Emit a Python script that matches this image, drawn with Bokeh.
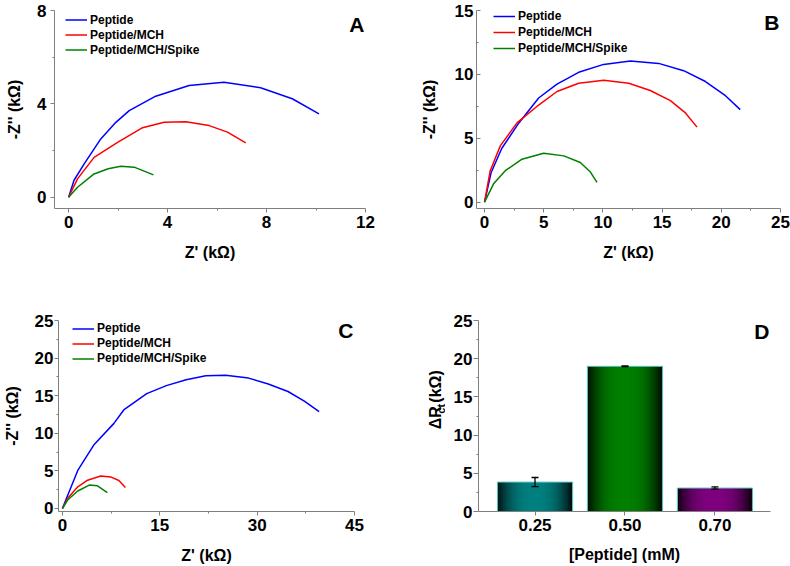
import math
from bokeh.plotting import figure
from bokeh.layouts import column, row
from bokeh.models import (Range1d, FixedTicker, Legend, LegendItem, Label,
                          Whisker, ColumnDataSource, TeeHead)
from bokeh.core.properties import value
from bokeh.embed import file_html
from bokeh.resources import INLINE

FONT = "Liberation Sans"
AX_COL = "#7f7f7f"
SERIES = ["Peptide", "Peptide/MCH", "Peptide/MCH/Spike"]
SERIES_COLORS = ["#0000ff", "#ff0000", "#008000"]

# ---------------- Panel A (kOhm) ----------------
a_pep_x = [0.0, 0.22, 0.63, 1.30, 1.91, 2.45, 3.52, 4.87, 6.28, 7.76, 9.04, 10.12]
a_pep_y = [0.0, 0.73, 1.43, 2.50, 3.21, 3.71, 4.33, 4.79, 4.93, 4.69, 4.22, 3.57]
a_mch_x = [0.0, 0.36, 1.03, 1.98, 2.99, 3.86, 4.74, 5.68, 6.42, 7.16]
a_mch_y = [0.0, 0.79, 1.71, 2.35, 2.98, 3.21, 3.24, 3.07, 2.79, 2.33]
a_spk_x = [0.0, 0.36, 1.03, 1.60, 2.11, 2.65, 3.43]
a_spk_y = [0.0, 0.43, 1.00, 1.22, 1.33, 1.29, 0.96]
a_xticks, a_xminor = [0, 4, 8, 12], [2, 6, 10]
a_yticks, a_yminor = [0, 4, 8], [2, 6]

# ---------------- Panel B ----------------
b_pep_x = [0.0, 0.55, 1.45, 2.90, 4.57, 6.12, 7.95, 10.06, 12.32, 14.71, 16.82, 18.66, 20.35, 21.60]
b_pep_y = [0.0, 2.30, 4.20, 6.20, 8.15, 9.23, 10.16, 10.78, 11.05, 10.86, 10.29, 9.44, 8.33, 7.24]
b_mch_x = [0.0, 0.48, 1.33, 2.74, 4.57, 6.12, 7.95, 10.06, 12.18, 14.00, 15.70, 16.97, 17.95]
b_mch_y = [0.0, 2.46, 4.40, 6.20, 7.60, 8.66, 9.31, 9.54, 9.31, 8.74, 7.94, 6.98, 5.87]
b_spk_x = [0.0, 0.76, 1.75, 3.16, 4.99, 6.70, 8.09, 8.90, 9.50]
b_spk_y = [0.0, 1.43, 2.46, 3.36, 3.83, 3.62, 3.10, 2.40, 1.55]
b_xticks, b_xminor = [0, 5, 10, 15, 20, 25], [2.5, 7.5, 12.5, 17.5, 22.5]
b_yticks, b_yminor = [0, 5, 10, 15], [2.5, 7.5, 12.5]

# ---------------- Panel C ----------------
c_pep_x = [0.0, 0.85, 2.37, 4.90, 7.94, 9.45, 12.99, 16.02, 19.06, 22.09, 25.13, 28.68, 31.71, 34.75, 37.27, 39.55]
c_pep_y = [0.0, 1.82, 5.06, 8.52, 11.32, 13.10, 15.27, 16.34, 17.12, 17.64, 17.73, 17.34, 16.56, 15.56, 14.27, 12.88]
c_mch_x = [0.0, 0.85, 2.37, 3.88, 5.90, 7.43, 8.70, 9.71]
c_mch_y = [0.0, 1.39, 2.89, 3.76, 4.32, 4.20, 3.72, 2.80]
c_spk_x = [0.0, 0.85, 2.37, 4.14, 5.40, 6.93]
c_spk_y = [0.0, 1.17, 2.33, 3.11, 3.02, 2.11]
c_xticks, c_xminor = [0, 15, 30, 45], [7.5, 22.5, 37.5]
c_yticks, c_yminor = [0, 5, 10, 15, 20, 25], [2.5, 7.5, 12.5, 17.5, 22.5]

# ---------------- Panel D ----------------
d_categories = ["0.25", "0.50", "0.70"]
d_values = [3.85, 19.0, 3.07]
d_errors = [0.60, 0.05, 0.15]
d_colors = [(0, 128, 128), (0, 128, 0), (128, 0, 128)]
d_yticks, d_yminor = [0, 5, 10, 15, 20, 25], [2.5, 7.5, 12.5, 17.5, 22.5]


def style_axis(ax, ticks, minor, tick_in=0, tick_out=4, label_standoff=3,
               axis_standoff=8):
    ax.ticker = FixedTicker(ticks=ticks, minor_ticks=minor)
    ax.axis_line_color = AX_COL
    ax.axis_line_width = 1
    ax.major_tick_line_color = AX_COL
    ax.minor_tick_line_color = AX_COL
    ax.major_tick_in = tick_in
    ax.major_tick_out = tick_out
    ax.minor_tick_in = 0 if tick_in == 0 else 2
    ax.minor_tick_out = 2 if tick_out else 0
    ax.major_label_text_font = FONT
    ax.major_label_text_font_style = "bold"
    ax.major_label_text_font_size = "17px"
    ax.major_label_text_color = "black"
    ax.major_label_standoff = label_standoff
    ax.axis_label_text_font = FONT
    ax.axis_label_text_font_style = "bold"
    ax.axis_label_text_font_size = "16px"
    ax.axis_label_text_color = "black"
    ax.axis_label_standoff = axis_standoff


def base_fig(w, h, l, r, t, b, xr, yr):
    p = figure(width=w, height=h, output_backend="svg", toolbar_location=None,
               x_range=Range1d(*xr), y_range=Range1d(*yr),
               min_border_left=l, min_border_right=r,
               min_border_top=t, min_border_bottom=b)
    p.xgrid.visible = False
    p.ygrid.visible = False
    p.outline_line_color = None
    p.background_fill_color = "white"
    p.border_fill_color = "white"
    return p


def letter(p, text, xr, yr, dy):
    p.add_layout(Label(x=xr[1], y=yr[1], x_offset=-1, y_offset=dy, text=text,
                       text_align="right", text_baseline="alphabetic",
                       text_font=FONT, text_font_style="bold",
                       text_font_size="21px", text_color="black"))


def nyquist(w, h, l, r, t, b, xr, yr, data, xt, xm, yt, ym, leg_x, leg_y,
            leg_h, ylab_standoff, xlab_standoff, y_in=0, y_out=4, ylbl_std=3):
    p = base_fig(w, h, l, r, t, b, xr, yr)
    items = []
    for (xs, ys), name, col in zip(data, SERIES, SERIES_COLORS):
        rr = p.line(xs, ys, line_color=col, line_width=1.5)
        items.append(LegendItem(label=name, renderers=[rr]))
    style_axis(p.xaxis[0], xt, xm, label_standoff=3, axis_standoff=xlab_standoff)
    style_axis(p.yaxis[0], yt, ym, tick_in=y_in, tick_out=y_out,
               label_standoff=ylbl_std, axis_standoff=ylab_standoff)
    p.xaxis[0].axis_label = "Z' (k\u03a9)"
    p.yaxis[0].axis_label = "-Z'' (k\u03a9)"
    leg = Legend(items=items, location=(leg_x, leg_y),
                 background_fill_alpha=0, border_line_color=None,
                 label_text_font=FONT, label_text_font_style="bold",
                 label_text_font_size="12px", label_text_color="black",
                 glyph_width=22, glyph_height=leg_h, label_height=leg_h,
                 label_standoff=3, spacing=0, padding=0, margin=0)
    p.add_layout(leg)
    return p


A_XR, A_YR = (-0.57, 12.0), (-0.48, 8.0)
B_XR, B_YR = (-0.68, 25.0), (-0.5, 15.0)
C_XR, C_YR = (-0.6, 45.0), (-0.4, 25.0)
D_XR, D_YR = (0.372, 3.617), (0.0, 25.0)

pa = nyquist(415, 280, 54, 50, 10, 72, A_XR, A_YR,
             [(a_pep_x, a_pep_y), (a_mch_x, a_mch_y), (a_spk_x, a_spk_y)],
             a_xticks, a_xminor, a_yticks, a_yminor, 11, 151, 15,
             ylab_standoff=11, xlab_standoff=13, ylbl_std=4)
letter(pa, "A", A_XR, A_YR, -13.7)

pb = nyquist(375, 280, 61, 10, 8, 72, B_XR, B_YR,
             [(b_pep_x, b_pep_y), (b_mch_x, b_mch_y), (b_spk_x, b_spk_y)],
             b_xticks, b_xminor, b_yticks, b_yminor, 17, 152, 16,
             ylab_standoff=14, xlab_standoff=13, y_in=4, y_out=0, ylbl_std=3)
letter(pb, "B", B_XR, B_YR, -12.4)

pc = nyquist(415, 286, 54, 61, 36, 54, C_XR, C_YR,
             [(c_pep_x, c_pep_y), (c_mch_x, c_mch_y), (c_spk_x, c_spk_y)],
             c_xticks, c_xminor, c_yticks, c_yminor, 14, 145.5, 15,
             ylab_standoff=11, xlab_standoff=13, ylbl_std=1)
letter(pc, "C", C_XR, C_YR, -9.7)

# ---------------- Panel D : gradient bars ----------------
pd_ = base_fig(345, 286, 33, 20, 40, 53, D_XR, D_YR)
positions = [i + 1 for i in range(len(d_categories))]
BAR_W = 0.833
N_STRIPS = 40
sx, stop, scol = [], [], []
for pos, val, (r0, g0, b0) in zip(positions, d_values, d_colors):
    for k in range(N_STRIPS):
        t = (k + 0.5) / N_STRIPS
        f = 0.08 + 0.92 * (1 - abs(2 * t - 1) ** 2.5)
        sx.append(pos - BAR_W / 2 + t * BAR_W)
        stop.append(val)
        scol.append("#%02x%02x%02x" % (int(r0 * f), int(g0 * f), int(b0 * f)))
pd_.vbar(x=sx, top=stop, bottom=0, width=BAR_W / N_STRIPS * 1.6,
         fill_color=scol, line_color=None)
pd_.vbar(x=positions, top=d_values, bottom=0, width=BAR_W,
         fill_color=None, line_color="#5ec4c4", line_width=1)
err_src = ColumnDataSource(dict(
    x=positions,
    upper=[v + e for v, e in zip(d_values, d_errors)],
    lower=[v - e for v, e in zip(d_values, d_errors)]))
pd_.add_layout(Whisker(source=err_src, base="x", upper="upper", lower="lower",
                       level="overlay", line_color="black", line_width=1.3,
                       upper_head=TeeHead(size=7, line_color="black", line_width=1.3),
                       lower_head=TeeHead(size=7, line_color="black", line_width=1.3)))
style_axis(pd_.xaxis[0], positions, [], label_standoff=3, axis_standoff=12)
pd_.xaxis[0].major_label_overrides = {p_: c_ for p_, c_ in zip(positions, d_categories)}
pd_.xaxis[0].axis_label = "[Peptide] (mM)"
style_axis(pd_.yaxis[0], d_yticks, d_yminor, tick_out=5, label_standoff=1)
letter(pd_, "D", D_XR, D_YR, -11)

# y-axis title of panel D (Delta R with subscript ct) in its own strip
plab = figure(width=30, height=286, output_backend="svg", toolbar_location=None,
              x_range=Range1d(0, 30), y_range=Range1d(0, 286),
              x_axis_location=None, y_axis_location=None,
              min_border_left=0, min_border_right=0,
              min_border_top=0, min_border_bottom=0)
plab.xgrid.visible = False
plab.ygrid.visible = False
plab.outline_line_color = None
ylab_parts = [("\u0394R", "16px", 20, 123),
              ("ct", "11px", 25, 146.5),
              ("(k\u03a9)", "16px", 20, 163)]
for txt, fs, xx, yy in ylab_parts:
    plab.text(x=[xx], y=[yy], text=[txt], angle=math.pi / 2,
              text_align="left", text_baseline="alphabetic",
              text_font=value(FONT), text_font_style="bold",
              text_font_size=value(fs), text_color="black")

layout = column(row(pa, pb), row(pc, plab, pd_))
open("out.html", "w").write(file_html(layout, INLINE))
